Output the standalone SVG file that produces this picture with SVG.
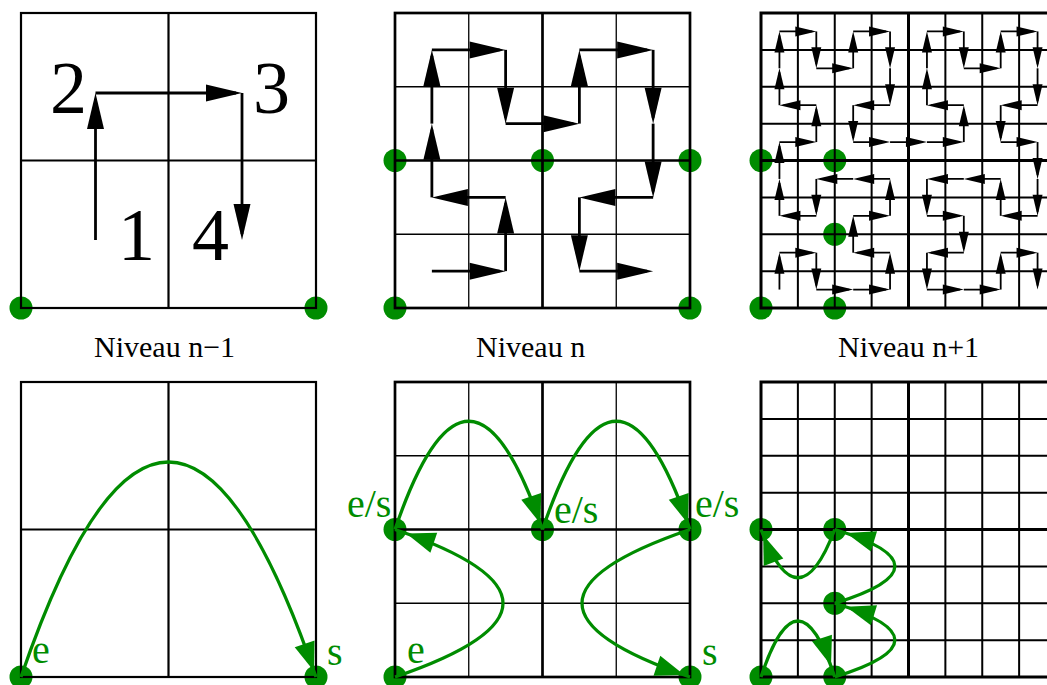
<svg xmlns="http://www.w3.org/2000/svg" xmlns:xlink="http://www.w3.org/1999/xlink" width="1047" height="685" viewBox="0 0 1047 685">
<style>
.g1{fill:none;stroke:#000;stroke-width:2.2}
.gthin{fill:none;stroke:#000;stroke-width:1.3}
.gthick{fill:none;stroke:#000;stroke-width:2.7}
.g3{fill:none;stroke:#000;stroke-width:2}
.g3t{fill:none;stroke:#000;stroke-width:3}
.dot{fill:#008c00}
.a2 line{stroke:#000;stroke-width:2.8;marker-end:url(#ah)}
.a3 line{stroke:#000;stroke-width:1.8;marker-end:url(#ah3)}
.cv{fill:none;stroke:#008c00;stroke-width:3.3}
.num{font-family:"Liberation Serif","Times New Roman",serif;font-size:74px;fill:#000;text-anchor:middle}
.lab{font-family:"Liberation Serif","Times New Roman",serif;font-size:30px;fill:#000}
.gl{font-family:"Liberation Serif","Times New Roman",serif;font-size:40px;fill:#008c00}
</style>
<defs>
<marker id="ah" markerUnits="userSpaceOnUse" viewBox="0 -9 36 18" markerWidth="36" markerHeight="18" refX="30" refY="0" orient="auto" overflow="visible"><path d="M0,-8.5L36,0L0,8.5z" fill="#000"/></marker>
<marker id="ah3" markerUnits="userSpaceOnUse" viewBox="0 -5 21 10" markerWidth="21" markerHeight="10" refX="17" refY="0" orient="auto" overflow="visible"><path d="M0,-5L21,0L0,5z" fill="#000"/></marker>
<marker id="gh" markerUnits="userSpaceOnUse" viewBox="0 -11 36 22" markerWidth="36" markerHeight="22" refX="35" refY="0" orient="auto" overflow="visible"><path d="M0,-10.5L29,0L0,10.5z" fill="#008c00"/></marker>
<marker id="gh2" markerUnits="userSpaceOnUse" viewBox="0 -11 42 22" markerWidth="42" markerHeight="22" refX="41" refY="0" orient="auto" overflow="visible"><path d="M0,-10.5L29,0L0,10.5z" fill="#008c00"/></marker>
<g id="grid1">
<rect class="g1" x="21" y="13" width="295" height="295"/>
<path class="g1" d="M168.5,13V308M21,160.5H316"/>
</g>
<g id="grid2">
<path class="gthin" d="M468.75,13V308M616.25,13V308M395,86.75H690M395,234.25H690"/>
<rect class="gthick" x="395" y="13" width="295" height="295"/>
<path class="gthick" d="M542.5,13V308M395,160.5H690"/>
</g>
<g id="grid3">
<path class="g3" d="M797.875,13V308M834.75,13V308M871.625,13V308M945.375,13V308M982.25,13V308M1019.125,13V308M761,49.875H1056M761,86.75H1056M761,123.625H1056M761,197.375H1056M761,234.25H1056M761,271.125H1056"/>
<rect class="g3t" x="761" y="13" width="295" height="295"/>
<path class="g3t" d="M908.5,13V308M761,160.5H1056"/>
</g>
</defs>

<g id="panel-n-1">
<circle class="dot" cx="21" cy="308" r="11.5"/>
<circle class="dot" cx="316" cy="308" r="11.5"/>
<use xlink:href="#grid1"/>
<text class="num" x="68.5" y="113">2</text>
<text class="num" x="271.5" y="113">3</text>
<text class="num" x="136.5" y="260">1</text>
<text class="num" x="210.5" y="260">4</text>
</g>
<g id="panel-n">
<circle class="dot" cx="395" cy="160.5" r="11.5"/>
<circle class="dot" cx="542.5" cy="160.5" r="11.5"/>
<circle class="dot" cx="690" cy="160.5" r="11.5"/>
<circle class="dot" cx="395" cy="308" r="11.5"/>
<circle class="dot" cx="690" cy="308" r="11.5"/>
<use xlink:href="#grid2"/>
</g>
<g id="panel-n1">
<circle class="dot" cx="761" cy="160.5" r="11.5"/>
<circle class="dot" cx="834.75" cy="160.5" r="11.5"/>
<circle class="dot" cx="834.75" cy="234.25" r="11.5"/>
<circle class="dot" cx="761" cy="308" r="11.5"/>
<circle class="dot" cx="834.75" cy="308" r="11.5"/>
<use xlink:href="#grid3"/>
</g>
<g id="labels">
<text class="lab" x="94" y="357">Niveau n−1</text>
<text class="lab" x="476" y="357">Niveau n</text>
<text class="lab" x="838" y="357">Niveau n+1</text>
</g>
<g id="panel-b1">
<circle class="dot" cx="21" cy="677" r="11.5"/>
<circle class="dot" cx="316" cy="677" r="11.5"/>
<use xlink:href="#grid1" transform="translate(0,369)"/>
<text class="gl" x="32" y="663">e</text>
<text class="gl" x="327" y="665">s</text>
</g>
<g id="panel-b2">
<circle class="dot" cx="395" cy="529.5" r="11.5"/>
<circle class="dot" cx="542.5" cy="529.5" r="11.5"/>
<circle class="dot" cx="690" cy="529.5" r="11.5"/>
<circle class="dot" cx="395" cy="677" r="11.5"/>
<circle class="dot" cx="690" cy="677" r="11.5"/>
<use xlink:href="#grid2" transform="translate(0,369)"/>
<text class="gl" x="347" y="517">e/s</text>
<text class="gl" x="554" y="523">e/s</text>
<text class="gl" x="695" y="517">e/s</text>
<text class="gl" x="407" y="663">e</text>
<text class="gl" x="702" y="665">s</text>
</g>
<g id="panel-b3">
<circle class="dot" cx="761" cy="529.5" r="11.5"/>
<circle class="dot" cx="834.75" cy="529.5" r="11.5"/>
<circle class="dot" cx="834.75" cy="603.25" r="11.5"/>
<circle class="dot" cx="761" cy="677" r="11.5"/>
<circle class="dot" cx="834.75" cy="677" r="11.5"/>
<use xlink:href="#grid3" transform="translate(0,369)"/>
</g>

<g id="connectors">
<g class="a2">
<line x1="95.5" y1="240" x2="95.5" y2="99"/>
<line x1="95.5" y1="93" x2="236" y2="93"/>
<line x1="242" y1="93" x2="242" y2="234"/>

<line x1="431.875" y1="271.125" x2="499.625" y2="271.125"/>
<line x1="505.625" y1="271.125" x2="505.625" y2="203.375"/>
<line x1="505.625" y1="197.375" x2="437.875" y2="197.375"/>
<line x1="431.875" y1="197.375" x2="431.875" y2="129.625"/>
<line x1="431.875" y1="123.625" x2="431.875" y2="55.875"/>
<line x1="431.875" y1="49.875" x2="499.625" y2="49.875"/>
<line x1="505.625" y1="49.875" x2="505.625" y2="117.625"/>
<line x1="505.625" y1="123.625" x2="573.375" y2="123.625"/>
<line x1="579.375" y1="123.625" x2="579.375" y2="55.875"/>
<line x1="579.375" y1="49.875" x2="647.125" y2="49.875"/>
<line x1="653.125" y1="49.875" x2="653.125" y2="117.625"/>
<line x1="653.125" y1="123.625" x2="653.125" y2="191.375"/>
<line x1="653.125" y1="197.375" x2="585.375" y2="197.375"/>
<line x1="579.375" y1="197.375" x2="579.375" y2="265.125"/>
<line x1="579.375" y1="271.125" x2="647.125" y2="271.125"/>
</g>
<g class="a3">
<line x1="779.44" y1="289.56" x2="779.44" y2="256.69"/>
<line x1="779.44" y1="252.69" x2="812.31" y2="252.69"/>
<line x1="816.31" y1="252.69" x2="816.31" y2="285.56"/>
<line x1="816.31" y1="289.56" x2="849.19" y2="289.56"/>
<line x1="853.19" y1="289.56" x2="886.06" y2="289.56"/>
<line x1="890.06" y1="289.56" x2="890.06" y2="256.69"/>
<line x1="890.06" y1="252.69" x2="857.19" y2="252.69"/>
<line x1="853.19" y1="252.69" x2="853.19" y2="219.81"/>
<line x1="853.19" y1="215.81" x2="886.06" y2="215.81"/>
<line x1="890.06" y1="215.81" x2="890.06" y2="182.94"/>
<line x1="890.06" y1="178.94" x2="857.19" y2="178.94"/>
<line x1="853.19" y1="178.94" x2="820.31" y2="178.94"/>
<line x1="816.31" y1="178.94" x2="816.31" y2="211.81"/>
<line x1="816.31" y1="215.81" x2="783.44" y2="215.81"/>
<line x1="779.44" y1="215.81" x2="779.44" y2="182.94"/>
<line x1="779.44" y1="178.94" x2="779.44" y2="146.06"/>
<line x1="779.44" y1="142.06" x2="812.31" y2="142.06"/>
<line x1="816.31" y1="142.06" x2="816.31" y2="109.19"/>
<line x1="816.31" y1="105.19" x2="783.44" y2="105.19"/>
<line x1="779.44" y1="105.19" x2="779.44" y2="72.31"/>
<line x1="779.44" y1="68.31" x2="779.44" y2="35.44"/>
<line x1="779.44" y1="31.44" x2="812.31" y2="31.44"/>
<line x1="816.31" y1="31.44" x2="816.31" y2="64.31"/>
<line x1="816.31" y1="68.31" x2="849.19" y2="68.31"/>
<line x1="853.19" y1="68.31" x2="853.19" y2="35.44"/>
<line x1="853.19" y1="31.44" x2="886.06" y2="31.44"/>
<line x1="890.06" y1="31.44" x2="890.06" y2="64.31"/>
<line x1="890.06" y1="68.31" x2="890.06" y2="101.19"/>
<line x1="890.06" y1="105.19" x2="857.19" y2="105.19"/>
<line x1="853.19" y1="105.19" x2="853.19" y2="138.06"/>
<line x1="853.19" y1="142.06" x2="886.06" y2="142.06"/>
<line x1="890.06" y1="142.06" x2="922.94" y2="142.06"/>
<line x1="926.94" y1="142.06" x2="959.81" y2="142.06"/>
<line x1="963.81" y1="142.06" x2="963.81" y2="109.19"/>
<line x1="963.81" y1="105.19" x2="930.94" y2="105.19"/>
<line x1="926.94" y1="105.19" x2="926.94" y2="72.31"/>
<line x1="926.94" y1="68.31" x2="926.94" y2="35.44"/>
<line x1="926.94" y1="31.44" x2="959.81" y2="31.44"/>
<line x1="963.81" y1="31.44" x2="963.81" y2="64.31"/>
<line x1="963.81" y1="68.31" x2="996.69" y2="68.31"/>
<line x1="1000.69" y1="68.31" x2="1000.69" y2="35.44"/>
<line x1="1000.69" y1="31.44" x2="1033.56" y2="31.44"/>
<line x1="1037.56" y1="31.44" x2="1037.56" y2="64.31"/>
<line x1="1037.56" y1="68.31" x2="1037.56" y2="101.19"/>
<line x1="1037.56" y1="105.19" x2="1004.69" y2="105.19"/>
<line x1="1000.69" y1="105.19" x2="1000.69" y2="138.06"/>
<line x1="1000.69" y1="142.06" x2="1033.56" y2="142.06"/>
<line x1="1037.56" y1="142.06" x2="1037.56" y2="174.94"/>
<line x1="1037.56" y1="178.94" x2="1037.56" y2="211.81"/>
<line x1="1037.56" y1="215.81" x2="1004.69" y2="215.81"/>
<line x1="1000.69" y1="215.81" x2="1000.69" y2="182.94"/>
<line x1="1000.69" y1="178.94" x2="967.81" y2="178.94"/>
<line x1="963.81" y1="178.94" x2="930.94" y2="178.94"/>
<line x1="926.94" y1="178.94" x2="926.94" y2="211.81"/>
<line x1="926.94" y1="215.81" x2="959.81" y2="215.81"/>
<line x1="963.81" y1="215.81" x2="963.81" y2="248.69"/>
<line x1="963.81" y1="252.69" x2="930.94" y2="252.69"/>
<line x1="926.94" y1="252.69" x2="926.94" y2="285.56"/>
<line x1="926.94" y1="289.56" x2="959.81" y2="289.56"/>
<line x1="963.81" y1="289.56" x2="996.69" y2="289.56"/>
<line x1="1000.69" y1="289.56" x2="1000.69" y2="256.69"/>
<line x1="1000.69" y1="252.69" x2="1033.56" y2="252.69"/>
<line x1="1037.56" y1="252.69" x2="1037.56" y2="285.56"/>
</g>
<g class="curves">
<path class="cv" marker-end="url(#gh)" d="M21,677Q168.5,247 316,677"/>
<path class="cv" marker-end="url(#gh)" d="M395,529.5Q468.75,313 542.5,529.5"/>
<path class="cv" marker-end="url(#gh)" d="M542.5,529.5Q616.25,313 690,529.5"/>
<path class="cv" marker-end="url(#gh2)" d="M395,677Q611,603.25 395,529.5"/>
<path class="cv" marker-end="url(#gh)" d="M690,529.5Q474,603.25 690,677"/>
<path class="cv" marker-end="url(#gh2)" d="M761,677Q798,565 834.75,677"/>
<path class="cv" marker-end="url(#gh2)" d="M834.75,677Q955,640 834.75,603.25"/>
<path class="cv" marker-end="url(#gh2)" d="M834.75,603.25Q955,566 834.75,529.5"/>
<path class="cv" marker-end="url(#gh)" d="M834.75,529.5Q798,626 761,529.5"/>
</g>
</g>
</svg>
